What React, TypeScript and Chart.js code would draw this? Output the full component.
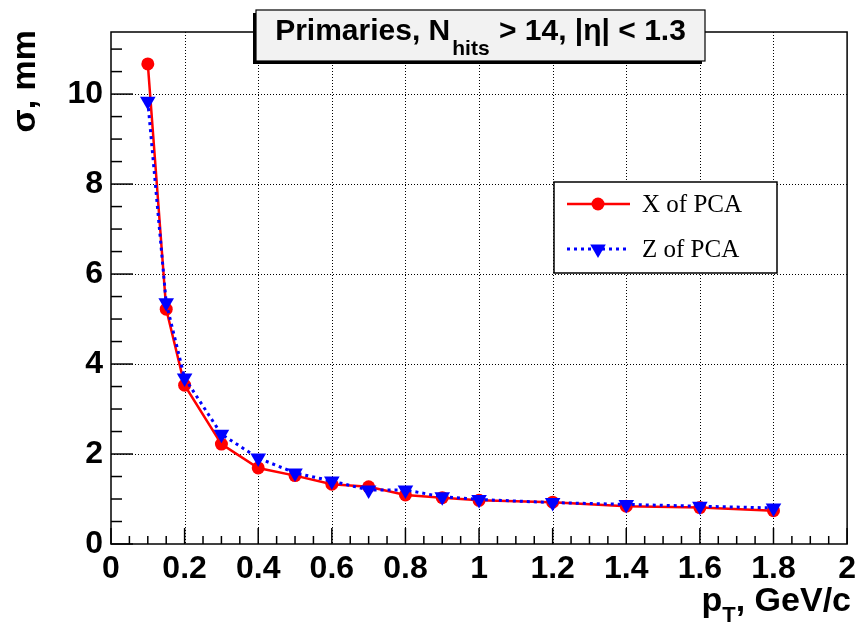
import { useEffect, useRef } from 'react';
import { Chart, registerables } from 'chart.js';

Chart.register(...registerables);

const pT = [0.1, 0.15, 0.2, 0.3, 0.4, 0.5, 0.6, 0.7, 0.8, 0.9, 1.0, 1.2, 1.4, 1.6, 1.8];
const sigmaX = [10.67, 5.22, 3.53, 2.22, 1.69, 1.52, 1.33, 1.27, 1.09, 1.03, 0.97, 0.93, 0.84, 0.81, 0.74];
const sigmaZ = [9.84, 5.36, 3.69, 2.44, 1.91, 1.58, 1.40, 1.20, 1.20, 1.05, 0.99, 0.92, 0.88, 0.84, 0.80];

const seriesNames = ['X of PCA', 'Z of PCA'];
const xTickValues = [0, 0.2, 0.4, 0.6, 0.8, 1, 1.2, 1.4, 1.6, 1.8, 2];
const yTickValues = [0, 2, 4, 6, 8, 10];

const SANS = '"Liberation Sans", Arial, Helvetica, sans-serif';
const SERIF = '"Liberation Serif", "Times New Roman", serif';

function drawTriangleDown(ctx: CanvasRenderingContext2D, x: number, y: number, r: number) {
  ctx.beginPath();
  ctx.moveTo(x - r * 0.866, y - r * 0.5);
  ctx.lineTo(x + r * 0.866, y - r * 0.5);
  ctx.lineTo(x, y + r);
  ctx.closePath();
  ctx.fill();
}

const rootPlugin = {
  id: 'rootStyle',
  beforeDatasetsDraw(chart: any) {
    const { ctx, chartArea: a, scales } = chart;
    const xs = scales.x;
    const ys = scales.y;
    ctx.save();
    ctx.strokeStyle = '#000';
    ctx.lineWidth = 1;
    ctx.setLineDash([1, 2]);
    for (const v of xTickValues) {
      const px = Math.round(xs.getPixelForValue(v)) + 0.5;
      if (px <= a.left + 1 || px >= a.right - 1) continue;
      ctx.beginPath();
      ctx.moveTo(px, a.top);
      ctx.lineTo(px, a.bottom);
      ctx.stroke();
    }
    for (const v of yTickValues) {
      const py = Math.round(ys.getPixelForValue(v)) + 0.5;
      if (py >= a.bottom - 1 || py <= a.top + 1) continue;
      ctx.beginPath();
      ctx.moveTo(a.left, py);
      ctx.lineTo(a.right, py);
      ctx.stroke();
    }
    ctx.restore();
  },
  afterDatasetsDraw(chart: any) {
    const { ctx, chartArea: a, scales } = chart;
    const xs = scales.x;
    const ys = scales.y;
    ctx.save();
    ctx.setLineDash([]);
    // frame
    ctx.strokeStyle = '#000';
    ctx.lineWidth = 1.5;
    ctx.strokeRect(a.left, a.top, a.right - a.left, a.bottom - a.top);

    // inner ticks
    ctx.lineWidth = 1.5;
    for (let i = 0; i <= 40; i++) {
      const v = i * 0.05;
      const px = xs.getPixelForValue(v);
      const len = i % 4 === 0 ? 16 : 8;
      ctx.beginPath();
      ctx.moveTo(px, a.bottom);
      ctx.lineTo(px, a.bottom - len);
      ctx.stroke();
    }
    for (let i = 0; i <= 22; i++) {
      const v = i * 0.5;
      if (v > ys.max) break;
      const py = ys.getPixelForValue(v);
      const len = i % 4 === 0 ? 22 : 11;
      ctx.beginPath();
      ctx.moveTo(a.left, py);
      ctx.lineTo(a.left + len, py);
      ctx.stroke();
    }

    // title box
    const bx = 256, by = 10, bw = 449, bh = 51;
    ctx.fillStyle = '#000';
    ctx.fillRect(bx - 3, by + 3, bw, bh);
    ctx.fillStyle = '#f2f2f2';
    ctx.fillRect(bx, by, bw, bh);
    ctx.strokeStyle = '#000';
    ctx.lineWidth = 1.2;
    ctx.strokeRect(bx, by, bw, bh);

    const mainFont = `bold 30px ${SANS}`;
    const subFont = `bold 21px ${SANS}`;
    const t1 = 'Primaries, N';
    const t2 = 'hits';
    const t3 = ' > 14, |\u03B7| < 1.3';
    ctx.font = mainFont;
    const w1 = ctx.measureText(t1).width;
    const w3 = ctx.measureText(t3).width;
    ctx.font = subFont;
    const w2 = ctx.measureText(t2).width + 3;
    const total = w1 + w2 + w3;
    let tx = bx + bw / 2 - total / 2;
    ctx.fillStyle = '#000';
    ctx.textAlign = 'left';
    ctx.textBaseline = 'alphabetic';
    ctx.font = mainFont;
    ctx.fillText(t1, tx, 40);
    tx += w1;
    ctx.font = subFont;
    ctx.fillText(t2, tx + 2, 55);
    tx += w2;
    ctx.font = mainFont;
    ctx.fillText(t3, tx, 40);

    // legend
    const lx = 554, ly = 182, lw = 223, lh = 91;
    ctx.fillStyle = '#fff';
    ctx.fillRect(lx, ly, lw, lh);
    ctx.strokeStyle = '#000';
    ctx.lineWidth = 1.5;
    ctx.strokeRect(lx, ly, lw, lh);
    const ds = chart.data.datasets;
    const rows = [204, 249];
    ctx.font = `25px ${SERIF}`;
    rows.forEach((ry: number, i: number) => {
      const d = ds[i];
      ctx.save();
      ctx.strokeStyle = d.borderColor;
      ctx.lineWidth = d.borderWidth;
      ctx.setLineDash(d.borderDash || []);
      ctx.beginPath();
      ctx.moveTo(567, ry);
      ctx.lineTo(630, ry);
      ctx.stroke();
      ctx.restore();
      ctx.fillStyle = d.backgroundColor;
      if (d.pointStyle === 'circle') {
        ctx.beginPath();
        ctx.arc(598, ry, d.pointRadius, 0, Math.PI * 2);
        ctx.fill();
      } else {
        drawTriangleDown(ctx, 598, ry, d.pointRadius);
      }
      ctx.fillStyle = '#000';
      ctx.textBaseline = 'middle';
      ctx.textAlign = 'left';
      ctx.fillText(d.label, 642, ry + 1);
    });

    // y axis title
    ctx.save();
    ctx.translate(35, 30);
    ctx.rotate(-Math.PI / 2);
    ctx.font = `bold 34px ${SANS}`;
    ctx.textAlign = 'right';
    ctx.textBaseline = 'alphabetic';
    ctx.fillStyle = '#000';
    ctx.fillText('\u03C3, mm', 0, 0);
    ctx.restore();

    // x axis title
    const xf = `bold 34px ${SANS}`;
    const xsf = `bold 22px ${SANS}`;
    ctx.font = xf;
    const wp = ctx.measureText('p').width;
    const wr = ctx.measureText(', GeV/c').width;
    ctx.font = xsf;
    const wt = ctx.measureText('T').width;
    let xx = 851 - (wp + wt + wr);
    ctx.fillStyle = '#000';
    ctx.textAlign = 'left';
    ctx.textBaseline = 'alphabetic';
    ctx.font = xf;
    ctx.fillText('p', xx, 611);
    xx += wp;
    ctx.font = xsf;
    ctx.fillText('T', xx, 622);
    xx += wt;
    ctx.font = xf;
    ctx.fillText(', GeV/c', xx, 611);

    ctx.restore();
  },
};

export default function App() {
  const ref = useRef<HTMLCanvasElement | null>(null);
  useEffect(() => {
    document.body.style.margin = '0';
    document.body.style.background = '#fff';
    const canvas = ref.current;
    if (!canvas) return;
    const chart = new Chart(canvas, {
      type: 'line',
      data: {
        datasets: [
          {
            label: seriesNames[0],
            data: pT.map((x, i) => ({ x, y: sigmaX[i] })),
            borderColor: '#ff0000',
            backgroundColor: '#ff0000',
            borderWidth: 2.5,
            pointStyle: 'circle',
            pointRadius: 6.5,
            pointBorderWidth: 0,
            pointBackgroundColor: '#ff0000',
            tension: 0,
            order: 2,
          } as any,
          {
            label: seriesNames[1],
            data: pT.map((x, i) => ({ x, y: sigmaZ[i] })),
            borderColor: '#0000ff',
            backgroundColor: '#0000ff',
            borderWidth: 3,
            borderDash: [3, 4],
            pointStyle: 'triangle',
            rotation: 180,
            pointRadius: 9,
            pointBorderWidth: 0,
            pointBackgroundColor: '#0000ff',
            tension: 0,
            order: 1,
          } as any,
        ],
      },
      options: {
        animation: false,
        responsive: false,
        devicePixelRatio: 1,
        layout: { padding: { top: 32, right: 11, left: 0, bottom: 0 } },
        plugins: {
          legend: { display: false },
          tooltip: { enabled: false },
          title: { display: false },
        },
        scales: {
          x: {
            type: 'linear',
            min: 0,
            max: 2,
            grid: { display: false, drawTicks: false },
            border: { display: false },
            afterFit: (s: any) => { s.height = 80; },
            ticks: {
              stepSize: 0.2,
              padding: 6,
              color: '#000',
              font: { family: SANS, size: 32, weight: 'bold' },
              maxRotation: 0,
              autoSkip: false,
              callback: (v: any) => String(Number(Number(v).toFixed(1))),
            },
          },
          y: {
            type: 'linear',
            min: 0,
            max: 11.38,
            grid: { display: false, drawTicks: false },
            border: { display: false },
            afterFit: (s: any) => { s.width = 111; },
            ticks: {
              stepSize: 2,
              includeBounds: false,
              padding: 8,
              color: '#000',
              font: { family: SANS, size: 32, weight: 'bold' },
              callback: (v: any) => String(Number(v)),
            },
          },
        },
      } as any,
      plugins: [rootPlugin],
    });
    return () => chart.destroy();
  }, []);
  return <canvas ref={ref} width={862} height={624} style={{ display: 'block' }} />;
}
